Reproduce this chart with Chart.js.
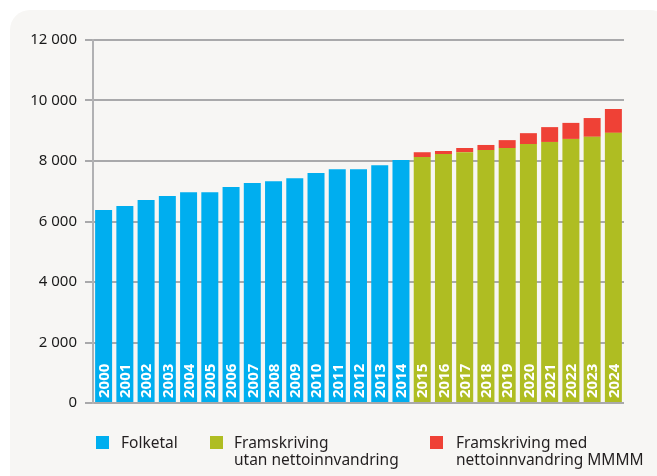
<!DOCTYPE html>
<html>
<head>
<meta charset="utf-8">
<script src="https://cdn.jsdelivr.net/npm/chart.js@4.4.1/dist/chart.umd.min.js"></script>
<style>
    html, body { margin: 0; padding: 0; background: #ffffff; }
    #wrap { position: relative; width: 657px; height: 476px; overflow: hidden; }
    #panel {
        position: absolute; left: 10px; top: 10px; width: 660px; height: 500px;
        background: #f7f6f4; border-radius: 20px;
    }
    #chart { position: absolute; left: 0; top: 0; }
    .leg { position: absolute; top: 434px; font: 15.5px "Noto Sans", sans-serif; line-height: 17px; color: #231f20; }
    .leg .box { position: absolute; left: 0; top: 2px; width: 13px; height: 13px; }
    .leg .txt { position: absolute; white-space: nowrap; }
</style>
</head>
<body>
<div id="wrap">
    <div id="panel"></div>
    <canvas id="chart" width="657" height="476"></canvas>
    <div id="legend"></div>
</div>
<script>
// Årstal
const years = ['2000','2001','2002','2003','2004','2005','2006','2007','2008','2009',
               '2010','2011','2012','2013','2014','2015','2016','2017','2018','2019',
               '2020','2021','2022','2023','2024'];

// Folketal 2000-2014
const folketal = [6380, 6510, 6710, 6840, 6970, 6970, 7140, 7270, 7330, 7430,
                  7600, 7730, 7730, 7860, 8030];

// Framskriving 2015-2024
const utanInnvandring = [8130, 8230, 8290, 8360, 8430, 8560, 8630, 8730, 8800, 8930];
const medInnvandring  = [8290, 8330, 8430, 8530, 8690, 8920, 9120, 9260, 9420, 9720];

const yTicks = [0, 2000, 4000, 6000, 8000, 10000, 12000];

const seriesLabels = ['Folketal', 'Framskriving\nutan nettoinnvandring', 'Framskriving med\nnettoinnvandring MMMM'];
const seriesColors = ['#00aeef', '#afbd22', '#ef4136'];
const legendLeft = [96, 210, 430];

const nObs = folketal.length;
const pad = (arr, before, after) => Array(before).fill(null).concat(arr, Array(after).fill(null));

const dataFolketal = pad(folketal, 0, years.length - nObs);
const dataUtan = pad(utanInnvandring, nObs, 0);
const dataMed = pad(medInnvandring.map((v, i) => v - utanInnvandring[i]), nObs, 0);

// Årstal inne i søylene
const yearLabels = {
    id: 'yearLabels',
    afterDatasetsDraw(chart) {
        const ctx = chart.ctx;
        const x = chart.scales.x, y = chart.scales.y;
        ctx.save();
        ctx.fillStyle = '#ffffff';
        ctx.font = 'bold 15px "Noto Sans"';
        ctx.textAlign = 'left';
        ctx.textBaseline = 'middle';
        years.forEach((yr, i) => {
            ctx.save();
            ctx.translate(x.getPixelForValue(i) + 1, y.getPixelForValue(0) - 5);
            ctx.rotate(-Math.PI / 2);
            ctx.fillText(yr, 0, 0);
            ctx.restore();
        });
        ctx.restore();
    }
};

const ctx = document.getElementById('chart').getContext('2d');
const chart = new Chart(ctx, {
    type: 'bar',
    data: {
        labels: years,
        datasets: [
            { label: seriesLabels[0], data: dataFolketal, backgroundColor: seriesColors[0] },
            { label: seriesLabels[1], data: dataUtan, backgroundColor: seriesColors[1] },
            { label: seriesLabels[2], data: dataMed, backgroundColor: seriesColors[2] }
        ]
    },
    options: {
        responsive: false,
        animation: false,
        datasets: {
            bar: { categoryPercentage: 1, barPercentage: 0.8 }
        },
        layout: {
            padding: { left: 0, right: 33, top: 40, bottom: 73 }
        },
        scales: {
            x: {
                display: false,
                stacked: true
            },
            y: {
                stacked: true,
                min: 0,
                max: 12000,
                afterFit(scale) { scale.width = 93; },
                afterBuildTicks(scale) { scale.ticks = yTicks.map(v => ({ value: v })); },
                border: { display: true, color: '#b1b1b3', width: 2 },
                grid: {
                    color: '#a9a9ab',
                    lineWidth: 2,
                    tickLength: 8,
                    drawTicks: true
                },
                ticks: {
                    padding: 8,
                    color: '#1a1a1a',
                    font: { family: 'Noto Sans', size: 15 },
                    callback: v => String(v).replace(/\B(?=(\d{3})+(?!\d))/g, ' ')
                }
            }
        },
        plugins: {
            legend: { display: false },
            tooltip: { enabled: false }
        }
    },
    plugins: [yearLabels]
});

// Forklaring
const legend = document.getElementById('legend');
seriesLabels.forEach((lab, i) => {
    const item = document.createElement('div');
    item.className = 'leg';
    item.style.left = legendLeft[i] + 'px';
    item.innerHTML = '<div class="box" style="background:' + seriesColors[i] + '"></div>' +
        '<div class="txt" style="left:' + (i === 0 ? 25 : i === 1 ? 24 : 26) + 'px">' +
        lab.replace('\n', '<br>') + '</div>';
    legend.appendChild(item);
});
</script>
</body>
</html>
